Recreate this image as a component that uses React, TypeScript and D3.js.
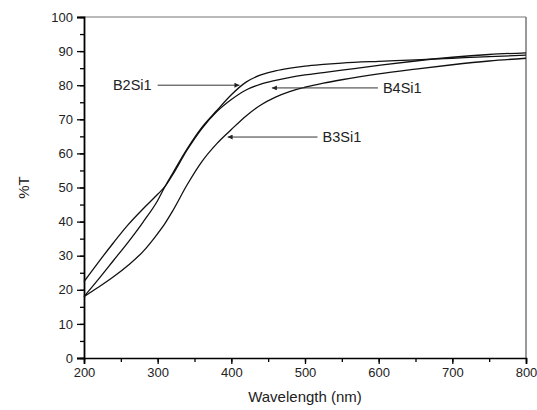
import React, { useEffect, useRef } from 'react';
import * as d3 from 'd3';

// wavelength grid (nm) and %T
const wavelength = [200, 220, 240, 260, 280, 300, 310, 320, 340, 360, 380, 400, 420, 440, 460, 480, 500, 525, 550, 600, 650, 700, 750, 800];
const b2si1 = [18, 23.2, 28.6, 34, 39.8, 46.2, 50.3, 54, 61.3, 67.6, 72.5, 77.2, 80.9, 83, 84.2, 85, 85.6, 86.1, 86.5, 87, 87.4, 87.9, 88.4, 88.8];
const b4si1 = [22.4, 28.2, 33.8, 39.1, 43.7, 48, 50.3, 53.6, 61, 67.3, 72.2, 75.8, 78.6, 80.3, 81.4, 82.3, 83, 83.7, 84.4, 85.8, 87.1, 88.2, 89, 89.5];
const b3si1 = [18, 20.8, 23.8, 27.2, 31.2, 36.5, 39.5, 43, 50.8, 57.6, 62.8, 67, 71, 74.2, 76.5, 78.2, 79.4, 80.6, 81.6, 83.3, 84.7, 86, 87.1, 87.9];
const seriesList = [b2si1, b4si1, b3si1];

// annotation: label, arrow tip (nm, %T), arrow tail (nm), text side
const labelNames = ['B2Si1', 'B4Si1', 'B3Si1'];
const tipX = [411, 455, 395];
const tipY = [80, 79.2, 64.8];
const tailX = [300, 599, 517];
const labelSide = ['left', 'right', 'right'];

const xTicks = [200, 300, 400, 500, 600, 700, 800];
const yTicks = [0, 10, 20, 30, 40, 50, 60, 70, 80, 90, 100];

const W = 537;
const H = 410;
const margin = { top: 17, right: 11, bottom: 52, left: 84 };

export default function App() {
  const ref = useRef<SVGSVGElement>(null);

  useEffect(() => {
    const svg = d3.select(ref.current);
    svg.selectAll('*').remove();

    const x = d3.scaleLinear().domain([200, 800]).range([margin.left, W - margin.right]);
    const y = d3.scaleLinear().domain([0, 100]).range([H - margin.bottom, margin.top]);
    const font = '"Liberation Sans", Arial, sans-serif';

    svg.append('defs').append('marker')
      .attr('id', 'arrowhead')
      .attr('viewBox', '0 0 10 10')
      .attr('refX', 10)
      .attr('refY', 5)
      .attr('markerWidth', 7)
      .attr('markerHeight', 5)
      .attr('markerUnits', 'userSpaceOnUse')
      .attr('orient', 'auto')
      .append('path')
      .attr('d', 'M0,0L10,5L0,10z')
      .attr('fill', '#222');

    // frame: top and right in grey
    svg.append('line')
      .attr('x1', x(200)).attr('x2', x(800))
      .attr('y1', y(100)).attr('y2', y(100))
      .attr('stroke', '#777').attr('stroke-width', 1.2);
    svg.append('line')
      .attr('x1', x(800)).attr('x2', x(800))
      .attr('y1', y(100)).attr('y2', y(0))
      .attr('stroke', '#777').attr('stroke-width', 1.5);

    // x axis
    const xAxis = svg.append('g')
      .attr('transform', `translate(0,${y(0)})`)
      .call(d3.axisBottom(x).tickValues(d3.range(200, 801, 50)).tickSize(4).tickFormat(() => ''));
    xAxis.selectAll('line').attr('stroke-width', 1.3);
    xAxis.select('.domain').remove();
    const xMajor = svg.append('g')
      .attr('transform', `translate(0,${y(0)})`)
      .call(d3.axisBottom(x).tickValues(xTicks).tickSize(6).tickPadding(4));
    xMajor.select('.domain').attr('stroke-width', 1.6);
    xMajor.selectAll('line').attr('stroke-width', 1.3);
    xMajor.selectAll('text').attr('font-family', font).attr('font-size', 13).attr('fill', '#222');

    // y axis
    const yMinor = svg.append('g')
      .attr('transform', `translate(${x(200)},0)`)
      .call(d3.axisLeft(y).tickValues(d3.range(0, 101, 5)).tickSize(4).tickFormat(() => ''));
    yMinor.select('.domain').remove();
    yMinor.selectAll('line').attr('stroke-width', 1.3);
    const yMajor = svg.append('g')
      .attr('transform', `translate(${x(200)},0)`)
      .call(d3.axisLeft(y).tickValues(yTicks).tickSize(7).tickPadding(4));
    yMajor.select('.domain').attr('stroke-width', 1.8);
    yMajor.selectAll('line').attr('stroke-width', 1.3);
    yMajor.selectAll('text').attr('font-family', font).attr('font-size', 13).attr('fill', '#222');

    // axis titles
    svg.append('text')
      .attr('x', (x(200) + x(800)) / 2)
      .attr('y', 402)
      .attr('text-anchor', 'middle')
      .attr('font-family', font)
      .attr('font-size', 15)
      .attr('fill', '#222')
      .text('Wavelength (nm)');
    svg.append('text')
      .attr('transform', `translate(29,${(y(0) + y(100)) / 2}) rotate(-90)`)
      .attr('text-anchor', 'middle')
      .attr('font-family', font)
      .attr('font-size', 15)
      .attr('fill', '#222')
      .text('%T');

    // curves
    const line = d3.line<number>()
      .x((_, i) => x(wavelength[i]))
      .y(d => y(d))
      .curve(d3.curveMonotoneX);
    svg.append('g')
      .selectAll('path')
      .data(seriesList)
      .join('path')
      .attr('d', d => line(d))
      .attr('fill', 'none')
      .attr('stroke', '#111')
      .attr('stroke-width', 1.3);

    // annotations
    labelNames.forEach((name, i) => {
      const yy = y(tipY[i]);
      svg.append('line')
        .attr('x1', x(tailX[i])).attr('y1', yy)
        .attr('x2', x(tipX[i])).attr('y2', yy)
        .attr('stroke', '#333')
        .attr('stroke-width', 1)
        .attr('marker-end', 'url(#arrowhead)');
      const left = labelSide[i] === 'left';
      svg.append('text')
        .attr('x', x(tailX[i]) + (left ? -6 : 5))
        .attr('y', yy)
        .attr('dy', '0.36em')
        .attr('text-anchor', left ? 'end' : 'start')
        .attr('font-family', font)
        .attr('font-size', 14.5)
        .attr('fill', '#222')
        .text(name);
    });
  }, []);

  return (
    <svg
      ref={ref}
      width={W}
      height={H}
      style={{ position: 'absolute', left: 0, top: 0, background: '#fff' }}
    />
  );
}
